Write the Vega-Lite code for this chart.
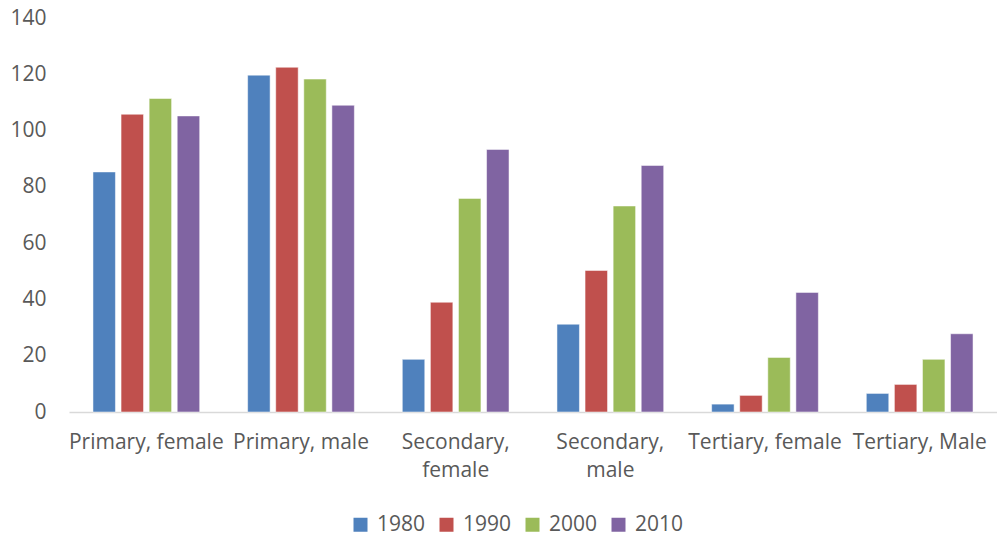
{
  "$schema": "https://vega.github.io/schema/vega-lite/v6.json",
  "autosize": "none",
  "width": 928,
  "height": 394,
  "padding": {"left": 69, "top": 18, "right": 0, "bottom": 126},
  "background": "white",
  "config": {"view": {"stroke": null}},
  "data": {
    "values": [
      {"category": "Primary, female", "year": "1980", "value": 85.3},
      {"category": "Primary, female", "year": "1990", "value": 105.8},
      {"category": "Primary, female", "year": "2000", "value": 111.4},
      {"category": "Primary, female", "year": "2010", "value": 105.2},
      {"category": "Primary, male", "year": "1980", "value": 119.7},
      {"category": "Primary, male", "year": "1990", "value": 122.5},
      {"category": "Primary, male", "year": "2000", "value": 118.3},
      {"category": "Primary, male", "year": "2010", "value": 109.0},
      {"category": "Secondary, female", "year": "1980", "value": 18.7},
      {"category": "Secondary, female", "year": "1990", "value": 39.0},
      {"category": "Secondary, female", "year": "2000", "value": 75.9},
      {"category": "Secondary, female", "year": "2010", "value": 93.3},
      {"category": "Secondary, male", "year": "1980", "value": 31.2},
      {"category": "Secondary, male", "year": "1990", "value": 50.3},
      {"category": "Secondary, male", "year": "2000", "value": 73.2},
      {"category": "Secondary, male", "year": "2010", "value": 87.6},
      {"category": "Tertiary, female", "year": "1980", "value": 2.8},
      {"category": "Tertiary, female", "year": "1990", "value": 5.9},
      {"category": "Tertiary, female", "year": "2000", "value": 19.4},
      {"category": "Tertiary, female", "year": "2010", "value": 42.5},
      {"category": "Tertiary, Male", "year": "1980", "value": 6.6},
      {"category": "Tertiary, Male", "year": "1990", "value": 9.8},
      {"category": "Tertiary, Male", "year": "2000", "value": 18.7},
      {"category": "Tertiary, Male", "year": "2010", "value": 27.8}
    ]
  },
  "mark": {"type": "bar", "stroke": "white", "strokeOpacity": 0.5, "strokeWidth": 1},
  "encoding": {
    "x": {
      "field": "category",
      "type": "nominal",
      "sort": null,
      "title": null,
      "scale": {"paddingInner": 0.31, "paddingOuter": 0.155},
      "axis": {
        "labelAngle": 0,
        "labelFont": "Open Sans",
        "labelFontSize": 21,
        "labelColor": "#595959",
        "labelPadding": 19,
        "labelLineHeight": 28,
        "ticks": false,
        "domainColor": "#D9D9D9",
        "domainWidth": 1.5,
        "labelExpr": "indexof(datum.label, 'Secondary') >= 0 ? split(datum.label, ' ') : datum.label"
      }
    },
    "xOffset": {
      "field": "year",
      "type": "nominal",
      "scale": {"paddingInner": 0.2, "paddingOuter": 0}
    },
    "y": {
      "field": "value",
      "type": "quantitative",
      "title": null,
      "scale": {"domain": [0, 140], "nice": false},
      "axis": {
        "values": [0, 20, 40, 60, 80, 100, 120, 140],
        "grid": false,
        "domain": false,
        "ticks": false,
        "labelFont": "Open Sans",
        "labelFontSize": 21,
        "labelColor": "#595959",
        "labelPadding": 23
      }
    },
    "color": {
      "field": "year",
      "type": "nominal",
      "title": null,
      "scale": {"domain": ["1980", "1990", "2000", "2010"], "range": ["#4F81BD", "#C0504D", "#9BBB59", "#8064A2"]},
      "legend": {
        "orient": "none",
        "legendX": 281,
        "legendY": 496,
        "direction": "horizontal",
        "symbolType": "square",
        "symbolSize": 196,
        "symbolStrokeWidth": 0,
        "labelFont": "Open Sans",
        "labelFontSize": 21,
        "labelColor": "#595959",
        "columnPadding": 10,
        "labelOffset": 6
      }
    }
  }
}
